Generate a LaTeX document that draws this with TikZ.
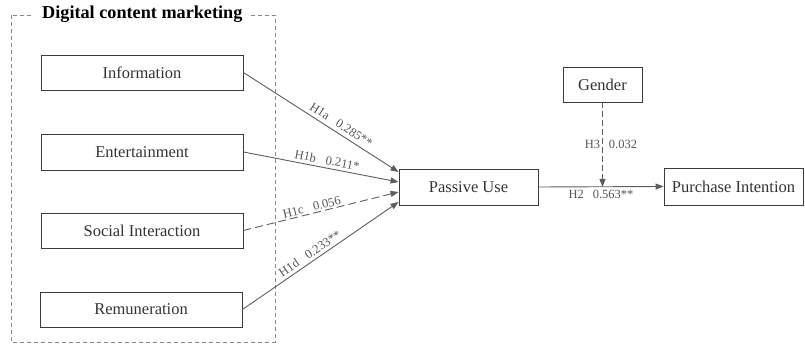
\documentclass[tikz,border=0pt]{standalone}
\usepackage{fontspec}
\setmainfont{Liberation Serif}
\usetikzlibrary{arrows.meta,calc}
\definecolor{boxc}{HTML}{3C3C3C}
\definecolor{txtc}{HTML}{333333}
\definecolor{linec}{HTML}{5E5E5E}
\definecolor{framec}{HTML}{8A8A8A}
\definecolor{labc}{HTML}{555555}
\tikzset{
  var/.style={draw=boxc, line width=0.9pt, text=txtc, font=\fontsize{16.5}{19}\selectfont, inner sep=0pt},
  path/.style={draw=linec, line width=0.9pt, -{Triangle[length=8pt,width=6pt]}},
  dpath/.style={path, dash pattern=on 8pt off 4pt},
  lab/.style={text=labc, font=\fontsize{12.5}{14}\selectfont, inner sep=3pt},
  frame/.style={draw=framec, line width=0.8pt, dash pattern=on 4pt off 3pt}
}
\begin{document}
\begin{tikzpicture}[x=1pt,y=-1pt]
\useasboundingbox (0,0) rectangle (805,344);
\draw[frame] (11,15) rectangle (275,342);
\node[anchor=west, fill=white, inner xsep=8pt, inner ysep=1pt, font=\fontsize{18.2}{22}\selectfont\bfseries, text=black] (title) at (34,14) {Digital content marketing};
\node[var, minimum width=202pt, minimum height=35pt] (info) at (142,72.5) {Information};
\node[var, minimum width=202pt, minimum height=36pt] (ent) at (142,152) {Entertainment};
\node[var, minimum width=202pt, minimum height=35pt] (soc) at (142,230.5) {Social Interaction};
\node[var, minimum width=202pt, minimum height=35pt] (rem) at (141,309.5) {Remuneration};
\node[var, minimum width=139pt, minimum height=36pt] (pu) at (468.5,187) {Passive Use};
\node[var, minimum width=139pt, minimum height=37pt] (pi) at (733.5,186.5) {Purchase Intention};
\node[var, minimum width=79pt, minimum height=35pt] (gen) at (602.5,84.5) {Gender};
\draw[path] (info.east) -- node[lab, pos=0.60, above, sloped, inner sep=4pt] {H1a\hspace{10pt}0.285**} ($(pu.west)+(0,-15)$);
\draw[path] (ent.east) -- node[lab, pos=0.53, above, sloped] {H1b\hspace{10pt}0.211*} ($(pu.west)+(0,-5)$);
\draw[dpath] (soc.east) -- node[lab, pos=0.45, above, sloped, inner sep=1.5pt] {H1c\hspace{10pt}0.056} ($(pu.west)+(0,5)$);
\draw[path] (rem.east) -- node[lab, pos=0.46, above, sloped] {H1d\hspace{10pt}0.233**} ($(pu.west)+(0,15)$);
\draw[path] (pu.east) -- node[lab, pos=0.5, below] {H2\hspace{9pt}0.563**} (pi.west);
\coordinate (gm) at (gen.south |- pu.east);
\draw[path, dash pattern=on 6pt off 3pt] (gen.south) -- node[lab, pos=0.5, left, inner sep=2pt] {H3} node[lab, pos=0.5, right, inner sep=6pt] {0.032} (gm);
\end{tikzpicture}
\end{document}
